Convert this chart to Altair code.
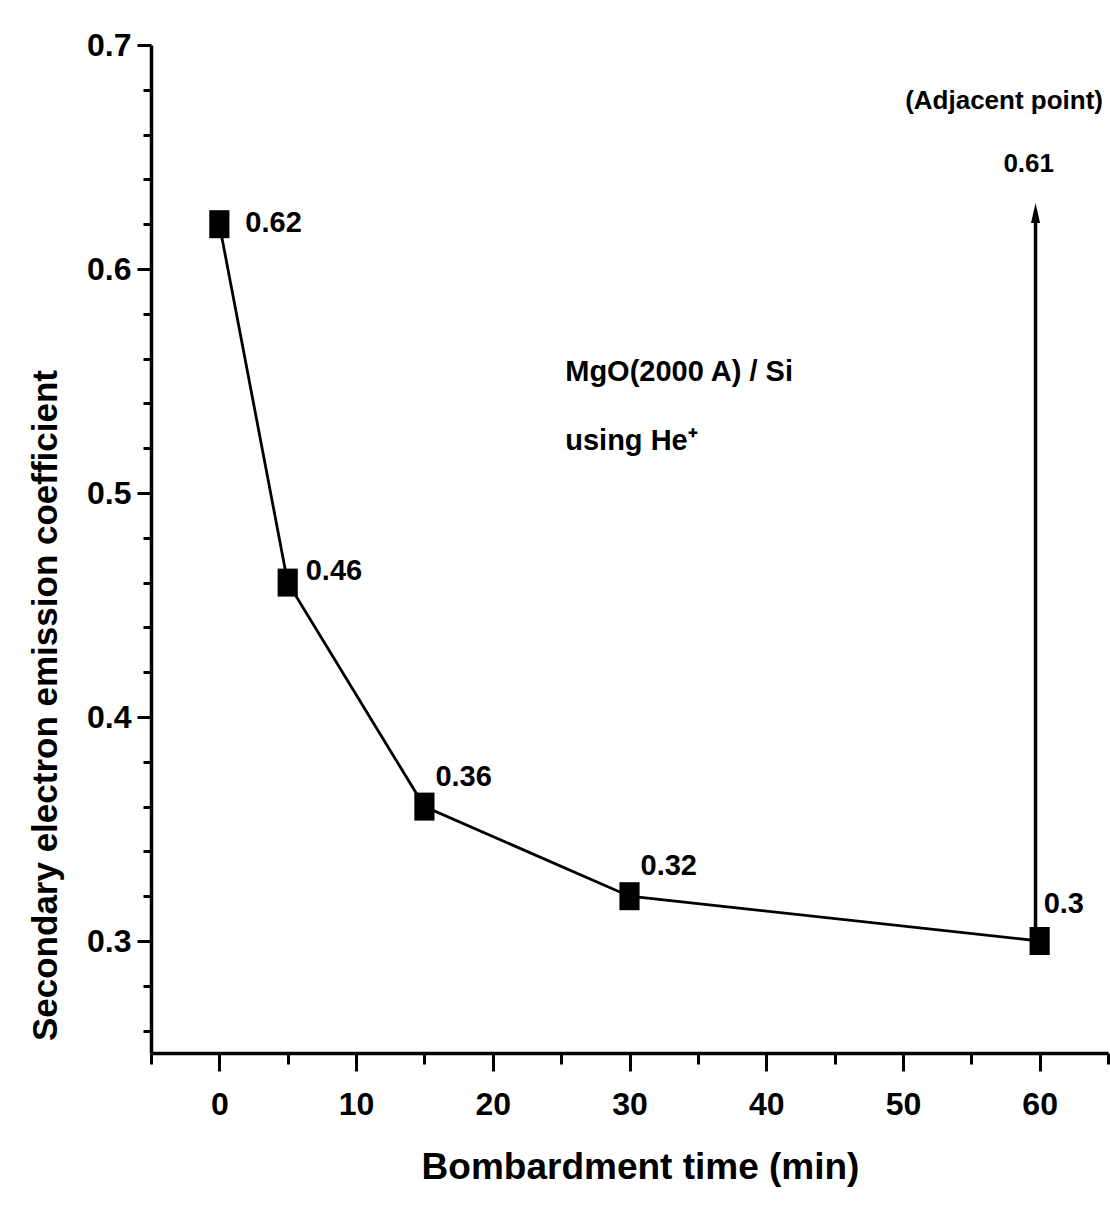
import altair as alt
import pandas as pd

# ---- data ----
times = [0, 5, 15, 30, 60]
coeffs = [0.62, 0.46, 0.36, 0.32, 0.30]
point_labels = ["0.62", "0.46", "0.36", "0.32", "0.3"]

x_ticks = [-5, 0, 5, 10, 15, 20, 25, 30, 35, 40, 45, 50, 55, 60, 65]
y_ticks = [0.26, 0.28, 0.30, 0.32, 0.34, 0.36, 0.38, 0.40, 0.42, 0.44, 0.46, 0.48,
           0.50, 0.52, 0.54, 0.56, 0.58, 0.60, 0.62, 0.64, 0.66, 0.68, 0.70]

adjacent_x = [59.7]
adjacent_from = [0.303]
adjacent_to = [0.625]

note_x = [25.3, 25.3, 57.4, 59.2]
note_y = [0.554, 0.523, 0.675, 0.647]
note_text = ["MgO(2000 A) / Si", "using He\u207a", "(Adjacent point)", "0.61"]

FONT = "Liberation Sans Narrow, Arial Narrow, Liberation Sans, Arial, sans-serif"

df = pd.DataFrame({"t": times, "c": coeffs, "lab": point_labels})

xs = alt.Scale(domain=[-5, 65], nice=False, zero=False)
ys = alt.Scale(domain=[0.25, 0.70], nice=False, zero=False)

x_axis = alt.Axis(
    values=x_ticks,
    labelExpr="abs(datum.value) % 10 == 0 ? datum.label : ''",
    tickSize={"condition": {"test": "abs(datum.value) % 10 == 0", "value": 18}, "value": 11},
    tickWidth=3, tickColor="black", domainColor="black", domainWidth=3.5,
    labelFont=FONT, labelFontSize=32, labelFontWeight="bold", labelColor="black",
    labelPadding=18, grid=False,
    title="Bombardment time (min)", titleFont=FONT, titleFontSize=37,
    titleFontWeight="bold", titleColor="black",
    titleX=489, titleY=114, titleBaseline="middle", titleAlign="center",
)

y_axis = alt.Axis(
    values=y_ticks,
    labelExpr="round(datum.value * 100) % 10 == 0 ? format(datum.value, '.1f') : ''",
    tickSize={"condition": {"test": "round(datum.value * 100) % 10 == 0", "value": 14}, "value": 8},
    tickWidth=3, tickColor="black", domainColor="black", domainWidth=3.5,
    labelFont=FONT, labelFontSize=32, labelFontWeight="bold", labelColor="black",
    labelPadding=6, grid=False,
    title="Secondary electron emission coefficient", titleFont=FONT, titleFontSize=35,
    titleFontWeight="bold", titleColor="black", titleAngle=270,
    titleX=-106, titleY=660, titleBaseline="middle", titleAlign="center",
)

base = alt.Chart(df)

line = base.mark_line(color="black", strokeWidth=2.8).encode(
    x=alt.X("t:Q", scale=xs, axis=x_axis),
    y=alt.Y("c:Q", scale=ys, axis=y_axis),
)

points = base.mark_point(
    shape="M-0.72,-1 L0.72,-1 L0.72,1 L-0.72,1 Z",
    filled=True, color="black", opacity=1, size=784,
).encode(x=alt.X("t:Q", scale=xs), y=alt.Y("c:Q", scale=ys))

offsets = [(26, -1), (18, -12), (11, -30), (11, -30), (4, -37)]
label_layers = []
for i, (dx, dy) in enumerate(offsets):
    label_layers.append(
        alt.Chart(df.iloc[[i]]).mark_text(
            align="left", baseline="middle", dx=dx, dy=dy,
            font=FONT, fontSize=29, fontWeight="bold", color="black",
        ).encode(x=alt.X("t:Q", scale=xs), y=alt.Y("c:Q", scale=ys), text="lab:N")
    )

adf = pd.DataFrame({"x": adjacent_x, "y1": adjacent_from, "y2": adjacent_to})
arrow_line = alt.Chart(adf).mark_rule(color="black", strokeWidth=3.5).encode(
    x=alt.X("x:Q", scale=xs), y=alt.Y("y1:Q", scale=ys), y2="y2:Q"
)
arrow_head = alt.Chart(adf).mark_point(
    shape="M0,-1 L0.45,1 L-0.45,1 Z", filled=True, color="black", opacity=1, size=400,
).encode(x=alt.X("x:Q", scale=xs), y=alt.Y("y2:Q", scale=ys))

ndf = pd.DataFrame({"x": note_x, "y": note_y, "txt": note_text})
notes_left = alt.Chart(ndf.iloc[:2]).mark_text(
    align="left", baseline="middle", font=FONT, fontSize=29, fontWeight="bold", color="black",
).encode(x=alt.X("x:Q", scale=xs), y=alt.Y("y:Q", scale=ys), text="txt:N")
notes_center = alt.Chart(ndf.iloc[2:]).mark_text(
    align="center", baseline="middle", font=FONT, fontSize=26, fontWeight="bold", color="black",
).encode(x=alt.X("x:Q", scale=xs), y=alt.Y("y:Q", scale=ys), text="txt:N")

chart = alt.layer(
    line, points, *label_layers, arrow_line, arrow_head, notes_left, notes_center
).properties(
    width=957, height=1008,
    autosize=alt.AutoSizeParams(type="none"),
    padding={"left": 151, "top": 45, "right": 2, "bottom": 155},
    background="white",
).configure_view(stroke=None)

chart.save("out.html", embed_options={"renderer": "svg", "actions": False})
